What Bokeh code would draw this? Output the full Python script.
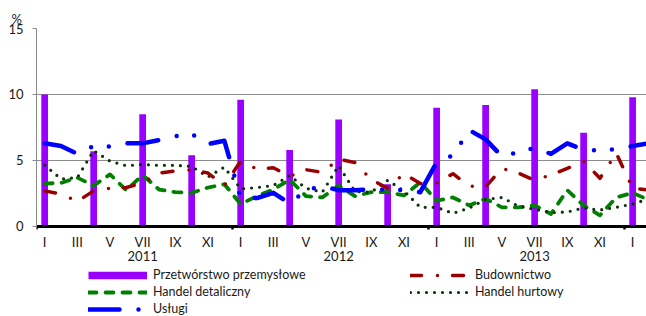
from bokeh.plotting import figure
from bokeh.models import Range1d, FixedTicker, LinearAxis, Legend, LegendItem
from bokeh.embed import file_html
from bokeh.resources import INLINE

ROMAN = ["I", "II", "III", "IV", "V", "VI", "VII", "VIII", "IX", "X", "XI", "XII"]
months = [f"{m} {y}" for y in (2011, 2012, 2013) for m in ROMAN] + ["I 2014", "II 2014"]
tick_labels = ["I", "III", "V", "VII", "IX", "XI"] * 3 + ["I"]
years = ["2011", "2012", "2013"]

# Przetwórstwo przemysłowe (quarterly)
przem_months = ["I 2011", "IV 2011", "VII 2011", "X 2011", "I 2012", "IV 2012", "VII 2012",
                "X 2012", "I 2013", "IV 2013", "VII 2013", "X 2013", "I 2014"]
przem = [10.0, 5.7, 8.5, 5.4, 9.6, 5.8, 8.1, 3.2, 9.0, 9.2, 10.4, 7.1, 9.8]

budownictwo = [2.7, 2.45, 1.9, 2.7, 2.9, 2.95, 3.3, 4.05, 4.2, 4.3,
               4.05, 3.1, 4.95, 4.35, 4.45, 3.8, 4.3, 4.1, 5.1, 4.85,
               3.55, 2.9, 4.0, 3.25, 3.3, 4.0, 3.05, 3.0, 4.4, 4.05,
               3.5, 3.9, 4.4, 4.95, 3.65, 5.55, 2.9, 2.75]
detaliczny = [3.25, 3.3, 3.7, 3.1, 3.95, 2.75, 3.9, 2.8, 2.6, 2.55,
              2.95, 3.2, 1.7, 2.3, 2.8, 3.55, 2.3, 2.2, 3.1, 2.3,
              2.6, 2.6, 2.35, 3.35, 1.95, 2.2, 1.6, 2.1, 1.45, 1.45,
              1.6, 0.95, 2.75, 1.6, 0.85, 2.2, 2.55, 2.0]
hurtowy = [4.65, 3.6, 3.7, 5.75, 4.95, 4.6, 4.7, 4.63, 4.63, 4.55,
           3.75, 4.5, 2.85, 2.95, 3.1, 3.85, 2.9, 2.6, 4.6, 2.65,
           2.6, 3.5, 2.7, 1.45, 1.45, 1.0, 1.4, 2.05, 2.2, 1.55,
           1.3, 1.05, 1.1, 1.4, 1.25, 1.45, 1.7, 2.1]
uslugi = [6.3, 6.1, 5.5, 6.1, 6.05, 6.3, 6.3, 6.55, 6.85, 7.0,
          6.25, 6.5, 2.2, 2.15, 2.55, 1.75, 2.75, 3.05, 2.75, 2.75,
          2.8, 2.8, 2.75, 2.6, 4.85, 5.4, 7.3, 6.6, 5.3, 5.65,
          5.95, 5.5, 6.3, 5.8, 5.75, 5.85, 6.1, 6.3]

FONT = "Lato"
FS = "13px"
TXT = "#1a1a1a"
GRID = "#8c8c8c"

STYLES = {
    "bud": dict(line_color="#990000", line_width=3.5, line_dash="11 16 0 15",
                line_cap="round", line_join="round"),
    "det": dict(line_color="#008000", line_width=3.8, line_dash="8 9",
                line_cap="round", line_join="round"),
    "hurt": dict(line_color="#0a330a", line_width=3.2, line_dash="0 8",
                 line_cap="round", line_join="round"),
    "usl": dict(line_color="#0000FF", line_width=4.5, line_dash="31 19 0 18 0 19",
                line_cap="round", line_join="round"),
}

xs = list(range(len(months)))

# frame extends below zero so the axes (fixed at y=0) and legend sit inside it
p = figure(width=646, height=316, x_range=Range1d(-0.5, 36.85), y_range=Range1d(-6.82, 15),
           output_backend="svg", toolbar_location=None,
           min_border_left=36, min_border_right=0, min_border_top=28, min_border_bottom=0)
p.outline_line_color = None
p.xgrid.visible = False

p.title.text = "%"
p.title.align = "left"
p.title.offset = -25
p.title.standoff = 4
p.title.text_font = FONT
p.title.text_font_size = FS
p.title.text_font_style = "normal"
p.title.text_color = TXT

# y axis
yax = p.yaxis[0]
yax.ticker = FixedTicker(ticks=[0, 5, 10, 15])
yax.bounds = (0, 15)
yax.axis_line_color = GRID
yax.major_tick_line_color = GRID
yax.major_tick_out = 4
yax.major_tick_in = 0
yax.minor_tick_line_color = None
yax.major_label_text_font = FONT
yax.major_label_text_font_size = FS
yax.major_label_text_color = TXT
yax.major_label_standoff = 9
p.ygrid.grid_line_color = GRID
p.ygrid.grid_line_width = 1

# month axis
tick_pos = list(range(0, 2 * len(tick_labels), 2))
year_bounds = [months.index(f"I {y}") - 0.5 for y in (2011, 2012, 2013, 2014)]
xax = p.xaxis[0]
xax.fixed_location = 0
xax.ticker = FixedTicker(ticks=tick_pos, minor_ticks=year_bounds)
xax.major_label_overrides = {t: lab for t, lab in zip(tick_pos, tick_labels)}
xax.axis_line_color = "black"
xax.axis_line_width = 3
xax.major_tick_line_color = None
xax.major_tick_out = 0
xax.major_tick_in = 0
xax.minor_tick_line_color = "black"
xax.minor_tick_line_width = 2.5
xax.minor_tick_out = 3
xax.minor_tick_in = 0
xax.major_label_text_font = FONT
xax.major_label_text_font_size = FS
xax.major_label_text_color = TXT
xax.major_label_standoff = 5

# year axis
year_pos = [months.index(f"VII {y}") for y in years]
yr_axis = LinearAxis(ticker=FixedTicker(ticks=year_pos), fixed_location=0,
                     major_label_overrides={t: y for t, y in zip(year_pos, years)})
yr_axis.axis_line_color = None
yr_axis.major_tick_line_color = None
yr_axis.minor_tick_line_color = None
yr_axis.major_tick_out = 0
yr_axis.major_tick_in = 0
yr_axis.major_label_standoff = 25
yr_axis.major_label_text_font = FONT
yr_axis.major_label_text_font_size = FS
yr_axis.major_label_text_color = TXT
p.add_layout(yr_axis, "below")

# bars
bar_x = [months.index(m) for m in przem_months]
r_przem = p.vbar(x=bar_x, top=przem, width=0.41, bottom=0, fill_color="#9900FF", line_color=None)

# lines
r_det = p.line(xs, detaliczny, **STYLES["det"])
r_hurt = p.line(xs, hurtowy, **STYLES["hurt"])
r_bud = p.line(xs, budownictwo, **STYLES["bud"])
r_usl = p.line(xs, uslugi, **STYLES["usl"])

# legend swatch for the bars (a thick bar-coloured stroke, holds no visible data)
NAN = float("nan")
proxy = p.line(x=[NAN], y=[NAN], line_color="#9900FF", line_width=7.5, line_cap="butt")

legend = Legend(items=[
    LegendItem(label="Przetwórstwo przemysłowe", renderers=[proxy]),
    LegendItem(label="Budownictwo", renderers=[r_bud]),
    LegendItem(label="Handel detaliczny", renderers=[r_det]),
    LegendItem(label="Handel hurtowy", renderers=[r_hurt]),
    LegendItem(label="Usługi", renderers=[r_usl]),
], orientation="horizontal", ncols=2, location=(52, 0))
legend.label_text_font = FONT
legend.label_text_font_size = "12.5px"
legend.label_text_color = TXT
legend.glyph_width = 59
legend.glyph_height = 12
legend.label_height = 12
legend.label_standoff = 6
legend.label_width = 255
legend.spacing = 2
legend.padding = 0
legend.margin = 0
legend.border_line_color = None
legend.background_fill_alpha = 0
p.add_layout(legend, "center")

open("out.html", "w").write(file_html(p, INLINE))
